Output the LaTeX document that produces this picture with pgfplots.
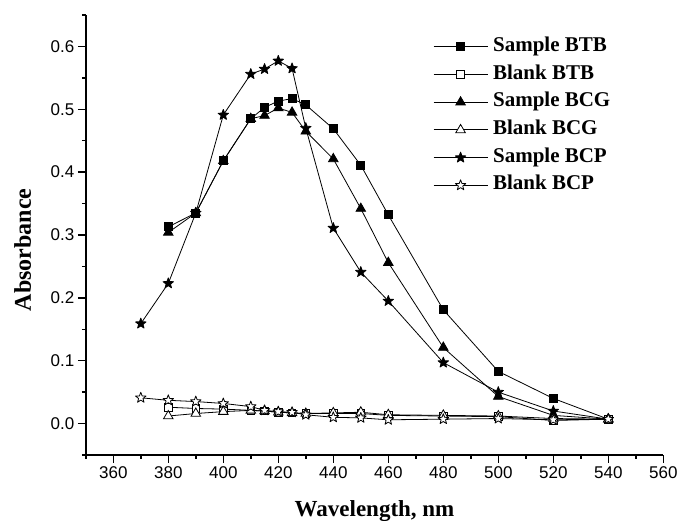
\documentclass[border=0pt]{standalone}
\usepackage{fontspec}
\setmainfont{Liberation Serif}
\setsansfont{Liberation Sans}
\usepackage{pgfplots}
\pgfplotsset{compat=1.18}
\pgfdeclareplotmark{fstar}{%
  \pgfpathmoveto{\pgfpointpolar{90}{\pgfplotmarksize}}%
  \pgfpathlineto{\pgfpointpolar{126}{0.42\pgfplotmarksize}}%
  \pgfpathlineto{\pgfpointpolar{162}{\pgfplotmarksize}}%
  \pgfpathlineto{\pgfpointpolar{198}{0.42\pgfplotmarksize}}%
  \pgfpathlineto{\pgfpointpolar{234}{\pgfplotmarksize}}%
  \pgfpathlineto{\pgfpointpolar{270}{0.42\pgfplotmarksize}}%
  \pgfpathlineto{\pgfpointpolar{306}{\pgfplotmarksize}}%
  \pgfpathlineto{\pgfpointpolar{342}{0.42\pgfplotmarksize}}%
  \pgfpathlineto{\pgfpointpolar{18}{\pgfplotmarksize}}%
  \pgfpathlineto{\pgfpointpolar{54}{0.42\pgfplotmarksize}}%
  \pgfpathclose
  \pgfusepathqfillstroke}
\begin{document}
\begin{tikzpicture}
\path[use as bounding box] (-85.8pt,-66pt) rectangle (593.2pt,455pt);
\begin{axis}[
  scale only axis, width=577.5pt, height=440pt,
  xmin=350, xmax=560, ymin=-0.05, ymax=0.65,
  axis lines=left, axis line style={-, line width=1.6pt},
  xtick={360,380,...,560}, minor xtick={350,370,...,550},
  ytick={0,0.1,...,0.6}, minor ytick={-0.05,0.05,0.15,0.25,0.35,0.45,0.55,0.65},
  tick align=outside, major tick length=8pt, minor tick length=4pt,
  every tick/.style={line width=1.5pt, black},
  /pgf/number format/assume math mode=true,
  yticklabel style={/pgf/number format/.cd, fixed, fixed zerofill, precision=1},
  xticklabel style={/pgf/number format/.cd, 1000 sep={}},
  tick label style={font=\sffamily\fontsize{17}{20}\selectfont},
  xlabel={Wavelength, nm}, ylabel={Absorbance},
  xlabel style={font=\bfseries\fontsize{23}{27}\selectfont, at={(axis description cs:0.5,-0.140)}, anchor=base},
  ylabel style={font=\bfseries\fontsize{24}{28}\selectfont, at={(axis description cs:-0.095,0.466)}, anchor=base, rotate=0},
  legend style={draw=none, fill=none, at={(axis description cs:0.601,0.952)}, anchor=north west,
    font=\bfseries\fontsize{21}{25}\selectfont, inner sep=0pt, row sep=6.7pt, column sep=4pt,
    nodes={inner sep=1pt, text height=14pt, text depth=5pt}},
  legend cell align=left,
  legend image code/.code={\draw[line width=1pt] (-27pt,0pt) -- (27pt,0pt); \draw plot[only marks] coordinates {(0pt,0pt)};},
  every axis plot/.append style={black, line width=0.8pt},
  clip=false,
]
\addplot[mark=square*, mark size=4pt, mark options={fill=black, solid}] coordinates {
(380,0.313)(390,0.335)(400,0.418)(410,0.485)(415,0.503)(420,0.513)(425,0.517)(430,0.507)(440,0.469)(450,0.411)(460,0.332)(480,0.181)(500,0.083)(520,0.040)(540,0.007)};
\addlegendentry{Sample BTB}
\addplot[mark=square*, mark size=3.8pt, mark options={fill=white, solid}] coordinates {
(380,0.026)(390,0.024)(400,0.023)(410,0.021)(415,0.020)(420,0.018)(425,0.017)(430,0.016)(440,0.016)(450,0.016)(460,0.013)(480,0.012)(500,0.011)(520,0.005)(540,0.007)};
\addlegendentry{Blank BTB}
\addplot[mark=triangle*, mark size=5.5pt, mark options={fill=black, solid}] coordinates {
(380,0.304)(390,0.335)(400,0.418)(410,0.485)(415,0.490)(420,0.502)(425,0.495)(430,0.465)(440,0.421)(450,0.342)(460,0.256)(480,0.121)(500,0.043)(520,0.013)(540,0.007)};
\addlegendentry{Sample BCG}
\addplot[mark=triangle*, mark size=5.5pt, mark options={fill=white, solid}] coordinates {
(380,0.012)(390,0.016)(400,0.019)(410,0.021)(415,0.020)(420,0.018)(425,0.017)(430,0.016)(440,0.017)(450,0.018)(460,0.014)(480,0.013)(500,0.012)(520,0.008)(540,0.007)};
\addlegendentry{Blank BCG}
\addplot[mark=fstar, mark size=5.5pt, mark options={fill=black, solid, line join=round}] coordinates {
(370,0.159)(380,0.223)(390,0.335)(400,0.491)(410,0.556)(415,0.564)(420,0.577)(425,0.565)(430,0.470)(440,0.311)(450,0.241)(460,0.195)(480,0.097)(500,0.050)(520,0.020)(540,0.007)};
\addlegendentry{Sample BCP}
\addplot[mark=fstar, mark size=5.5pt, mark options={fill=white, solid, line join=round}] coordinates {
(370,0.041)(380,0.037)(390,0.035)(400,0.032)(410,0.027)(415,0.021)(420,0.019)(425,0.018)(430,0.014)(440,0.010)(450,0.009)(460,0.006)(480,0.007)(500,0.008)(520,0.006)(540,0.007)};
\addlegendentry{Blank BCP}
\end{axis}
\end{tikzpicture}
\end{document}
